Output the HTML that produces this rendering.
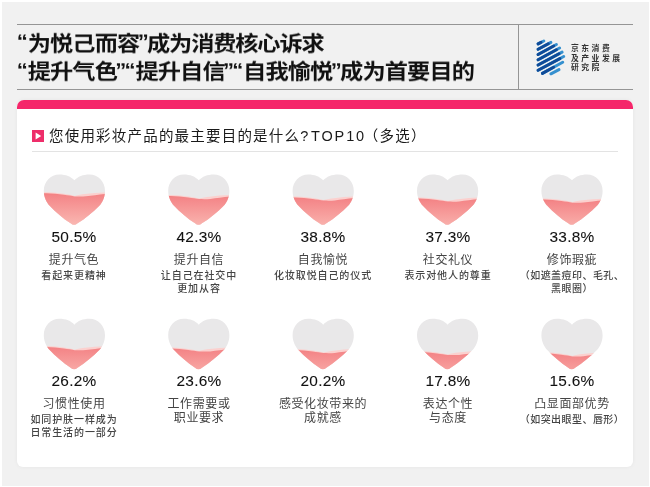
<!DOCTYPE html>
<html lang="zh-CN">
<head>
<meta charset="utf-8">
<title>为悦己而容</title>
<style>
  html, body { margin: 0; padding: 0; }
  body {
    width: 650px; height: 487px; overflow: hidden; position: relative;
    background: #ffffff;
    font-family: "Liberation Sans", "Noto Sans CJK SC", sans-serif;
    color: #111;
  }
  .bg { position: absolute; left: 2px; top: 2px; width: 647px; height: 484px; background: #f1f1f1; }
  .rule { position: absolute; background: #959595; }
  .rule.top { left: 17px; top: 24px; width: 616px; height: 1px; }
  .rule.bot { left: 17px; top: 89px; width: 616px; height: 1px; }
  .rule.vert { left: 518px; top: 24px; width: 1px; height: 66px; }
  .title {
    position: absolute; left: 16.5px; top: 30.1px; margin: 0;
    font-size: 23.2px; line-height: 31.1px; font-weight: 700; color: #111;
    white-space: nowrap; letter-spacing: -0.85px;
    transform: scaleY(0.9); transform-origin: 0 0;
  }
  .title, .question, .item, .logotext { will-change: transform; }
  .title span { display: block; }
  .title u { text-decoration: none; letter-spacing: -1.12px; }
  .title i { font-style: normal; font-size: 22px; line-height: 0; position: relative; top: -2.6px; letter-spacing: -0.15px; margin-left: -0.2px; }
  .title em { font-style: normal; font-size: 22px; line-height: 0; position: relative; top: -2.6px; letter-spacing: -1.65px; margin-left: -1.7px; }
  .logo { position: absolute; left: 536px; top: 38px; width: 30px; height: 38px; }
  .logotext {
    position: absolute; left: 571px; top: 44.3px; margin: 0;
    font-size: 7.8px; line-height: 9.5px; font-weight: 700; color: #333;
    letter-spacing: 2.5px; white-space: nowrap;
  }
  .logotext span { display: block; }
  .card {
    position: absolute; left: 17px; top: 100.3px; width: 616px; height: 367.2px;
    background: #fff; border-radius: 7px 7px 6px 6px; overflow: hidden;
    box-shadow: 0 0 4px rgba(0,0,0,0.05);
  }
  .card .bar { position: absolute; left: 0; top: 0; width: 100%; height: 8.3px; background: #f5266a; }
  .qicon { position: absolute; left: 32px; top: 129.5px; width: 12px; height: 12px; }
  .question {
    position: absolute; left: 49px; top: 124.5px; margin: 0;
    font-size: 14.5px; line-height: 22px; font-weight: 400; color: #1a1a1a;
    letter-spacing: 1.2px; white-space: nowrap;
  }
  .question b { font-weight: 400; letter-spacing: 1.9px; word-spacing: -5.2px; margin-right: -2.3px; }
  .qrule { position: absolute; left: 32px; top: 151px; width: 586px; height: 1px; background: #e3e3e3; }
  .hearts { position: absolute; left: 0; top: 0; width: 650px; height: 487px; }
  .item { position: absolute; width: 140px; text-align: center; }
  .pct { margin: 0; font-size: 15.4px; line-height: 18px; letter-spacing: 0.3px; color: #111; padding-top: 2.4px; -webkit-text-stroke: 0.08px #111; }
  .lab { margin: 0; font-size: 12px; line-height: 14px; letter-spacing: 0.6px; color: #444; padding-top: 7px; }
  .sub { margin: 0; font-size: 10px; line-height: 13.7px; letter-spacing: 0.9px; color: #444; font-weight: 500; padding-top: 1.3px; }
  .sub span { display: block; }
  .sub.par { letter-spacing: 0.45px; }
</style>
</head>
<body>
<div class="bg"></div>
<div class="rule top"></div>
<div class="rule bot"></div>
<div class="rule vert"></div>

<h1 class="title"><span><i>“</i>为悦己而容<em>”</em><u>成为消费核心诉求</u></span><span><i>“</i>提升气色<em>”</em><i>“</i>提升自信<em>”</em><i>“</i>自我愉悦<em>”</em>成为首要目的</span></h1>

<p class="logotext"><span>京东消费</span><span>及产业发展</span><span>研究院</span></p>

<div class="card"><div class="bar"></div></div>

<svg class="qicon" viewBox="0 0 12 12">
  <rect width="12" height="12" fill="#ee2e6a"/>
  <path d="M3.6 2.6 L9.2 6 L3.6 9.4 Z" fill="#fff"/>
</svg>
<p class="question">您使用彩妆产品的最主要目的是什么<b>? TOP10</b>（多选）</p>
<div class="qrule"></div>

<svg class="hearts" viewBox="0 0 650 487">
  <defs>
    <path id="heart" d="M30.5,5.9 C33.8,2.1 39.2,0 45.4,0 C54.3,0 61,7.2 61,16.5 C61,23 58.1,28.4 55.6,31 C48.96,37.81 41.65,43.78 33.65,48.93 A5.2,5.2 0 0 1 26.75,48.93 C19,43.77 11.96,37.8 5.6,31 C3.2,28.4 0,23 0,16.5 C0,7.2 6.7,0 15.6,0 C21.8,0 27.2,2.1 30.5,5.9 Z"/>
    <clipPath id="hc"><use href="#heart"/></clipPath>
    <linearGradient id="liq" gradientUnits="userSpaceOnUse" x1="0" y1="0" x2="0" y2="34">
      <stop offset="0" stop-color="#f27e7f"/>
      <stop offset="0.1" stop-color="#f48789"/>
      <stop offset="1" stop-color="#fabab4"/>
    </linearGradient>
    <g id="wave">
      <path d="M-1,-0.2 C6,-0.6 13,0 20,1.2 C24,1.8 28,2.7 30.8,3.3 C34,2.4 38,1.8 41,1.4 C48,0.4 55,0 62,-0.2 V60 H-1 Z" fill="#fbd0ce"/>
      <path d="M-1,0.8 C6,0.5 13,1.1 20,2.2 C24,2.7 28,3.3 30.8,3.8 C35,3.9 39,3.9 42,3.7 C48,2.9 55,1.7 62,1.2 V60 H-1 Z" fill="url(#liq)"/>
    </g>
  </defs>
  <g transform="translate(0,0.6)" stroke-width="3" stroke-linecap="round" fill="none">
    <line x1="538.1" y1="43.3" x2="543.8" y2="40.4" stroke="#3590cf"/>
    <line x1="538.1" y1="43.3" x2="541.0" y2="41.8" stroke="#0f4b98"/>
    <line x1="538.1" y1="48.7" x2="550.9" y2="41.8" stroke="#3590cf"/>
    <line x1="538.1" y1="48.7" x2="548.3" y2="43.2" stroke="#0f4b98"/>
    <line x1="538.1" y1="53.9" x2="556.4" y2="43.9" stroke="#3590cf"/>
    <line x1="538.1" y1="53.9" x2="553.7" y2="45.4" stroke="#0f4b98"/>
    <line x1="538.1" y1="59.1" x2="559.6" y2="47.4" stroke="#3590cf"/>
    <line x1="538.1" y1="59.1" x2="556.4" y2="49.2" stroke="#0f4b98"/>
    <line x1="538.1" y1="64.4" x2="562.1" y2="51.5" stroke="#3590cf"/>
    <line x1="538.1" y1="64.4" x2="559.0" y2="53.2" stroke="#0f4b98"/>
    <line x1="538.1" y1="69.7" x2="563.7" y2="55.9" stroke="#3590cf"/>
    <line x1="538.1" y1="69.7" x2="559.9" y2="58.0" stroke="#0f4b98"/>
    <line x1="542.4" y1="72.8" x2="562.7" y2="61.7" stroke="#3590cf"/>
    <line x1="542.4" y1="72.8" x2="553.6" y2="66.7" stroke="#0f4b98"/>
    <line x1="550.9" y1="73.2" x2="559.0" y2="69.0" stroke="#3590cf"/>
  </g>
  <g transform="translate(43.8,174.4) scale(1.0033,1)"><use href="#heart" fill="#e9e8e9"/><g clip-path="url(#hc)"><use href="#wave" y="18.2"/></g></g>
  <g transform="translate(168.2,174.4) scale(1.0033,1)"><use href="#heart" fill="#e9e8e9"/><g clip-path="url(#hc)"><use href="#wave" y="20.9"/></g></g>
  <g transform="translate(292.6,174.4) scale(1.0033,1)"><use href="#heart" fill="#e9e8e9"/><g clip-path="url(#hc)"><use href="#wave" y="22.4"/></g></g>
  <g transform="translate(417.0,174.4) scale(1.0033,1)"><use href="#heart" fill="#e9e8e9"/><g clip-path="url(#hc)"><use href="#wave" y="23.4"/></g></g>
  <g transform="translate(541.4,174.4) scale(1.0033,1)"><use href="#heart" fill="#e9e8e9"/><g clip-path="url(#hc)"><use href="#wave" y="24.5"/></g></g>
  <g transform="translate(43.8,318.8) scale(1.0033,1)"><use href="#heart" fill="#e9e8e9"/><g clip-path="url(#hc)"><use href="#wave" y="27.6"/></g></g>
  <g transform="translate(168.2,318.8) scale(1.0033,1)"><use href="#heart" fill="#e9e8e9"/><g clip-path="url(#hc)"><use href="#wave" y="28.9"/></g></g>
  <g transform="translate(292.6,318.8) scale(1.0033,1)"><use href="#heart" fill="#e9e8e9"/><g clip-path="url(#hc)"><use href="#wave" y="30.5"/></g></g>
  <g transform="translate(417.0,318.8) scale(1.0033,1)"><use href="#heart" fill="#e9e8e9"/><g clip-path="url(#hc)"><use href="#wave" y="32.4"/></g></g>
  <g transform="translate(541.4,318.8) scale(1.0033,1)"><use href="#heart" fill="#e9e8e9"/><g clip-path="url(#hc)"><use href="#wave" y="33.8"/></g></g>
</svg>

<div class="item" style="left:4.4px;top:226.0px"><p class="pct">50.5%</p><p class="lab">提升气色</p><p class="sub"><span>看起来更精神</span></p></div>
<div class="item" style="left:128.8px;top:226.0px"><p class="pct">42.3%</p><p class="lab">提升自信</p><p class="sub"><span>让自己在社交中</span><span>更加从容</span></p></div>
<div class="item" style="left:253.2px;top:226.0px"><p class="pct">38.8%</p><p class="lab">自我愉悦</p><p class="sub"><span>化妆取悦自己的仪式</span></p></div>
<div class="item" style="left:377.6px;top:226.0px"><p class="pct">37.3%</p><p class="lab">社交礼仪</p><p class="sub"><span>表示对他人的尊重</span></p></div>
<div class="item" style="left:502.0px;top:226.0px"><p class="pct">33.8%</p><p class="lab">修饰瑕疵</p><p class="sub par"><span>（如遮盖痘印、毛孔、</span><span>黑眼圈）</span></p></div>
<div class="item" style="left:4.4px;top:370.4px"><p class="pct">26.2%</p><p class="lab">习惯性使用</p><p class="sub"><span>如同护肤一样成为</span><span>日常生活的一部分</span></p></div>
<div class="item" style="left:128.8px;top:370.4px"><p class="pct">23.6%</p><p class="lab">工作需要或<br>职业要求</p></div>
<div class="item" style="left:253.2px;top:370.4px"><p class="pct">20.2%</p><p class="lab">感受化妆带来的<br>成就感</p></div>
<div class="item" style="left:377.6px;top:370.4px"><p class="pct">17.8%</p><p class="lab">表达个性<br>与态度</p></div>
<div class="item" style="left:502.0px;top:370.4px"><p class="pct">15.6%</p><p class="lab">凸显面部优势</p><p class="sub par"><span>（如突出眼型、唇形）</span></p></div>

</body>
</html>
